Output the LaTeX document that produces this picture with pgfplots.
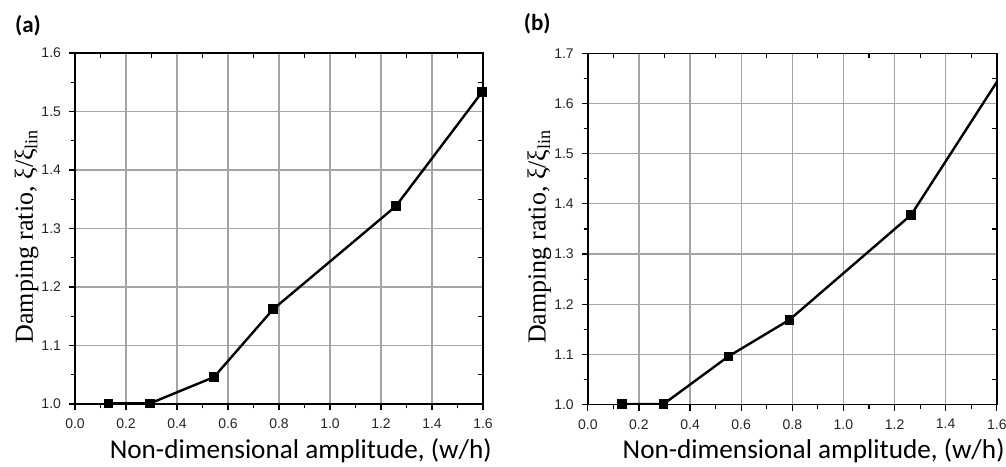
\documentclass[border=0pt]{standalone}
\usepackage{fontspec}
\usepackage{pgfplots}
\pgfplotsset{compat=1.18}
\setmainfont{Liberation Sans}
\newfontfamily\labelfont{Carlito}
\newfontfamily\serifgreek{Liberation Serif}

\definecolor{gridgray}{RGB}{165,165,165}

% Data: damping ratio vs. non-dimensional amplitude
\pgfplotstableread{
x      y
0.131  1.001
0.294  1.001
0.545  1.046
0.777  1.162
1.258  1.338
1.596  1.533
}\dataA
\pgfplotstableread{
x      y
0.133  1.001
0.296  1.001
0.550  1.096
0.789  1.169
1.265  1.378
1.660  1.690
}\dataB

\pgfplotsset{
  panel/.style={
    scale only axis,
    anchor=south west,
    xmin=0, xmax=1.6,
    ymin=1.0,
    xtick={0,0.2,...,1.6},
    minor x tick num=1,
    minor y tick num=1,
    tick align=outside,
    tick pos=left,
    major tick length=3pt,
    minor tick length=2pt,
    grid=major,
    major grid style={gridgray, line width=0.6pt},
    axis line style={black, line width=0.7pt},
    every tick/.style={black, line width=0.6pt},
    tick label style={font=\fontsize{7}{8}\selectfont, text=black!85},
    /pgf/number format/assume math mode=true,
    /pgf/number format/fixed,
    /pgf/number format/fixed zerofill,
    /pgf/number format/precision=1,
    xticklabel style={yshift=-0.8pt},
    yticklabel style={xshift=-0.5pt},
    xlabel={\labelfont\fontsize{13.6}{16}\selectfont Non-dimensional amplitude, (w/h)},
    ylabel={\serifgreek\fontsize{13}{16}\selectfont Damping ratio, ξ/ξ\textsubscript{lin}},
    xlabel style={at={(axis description cs:0.068,-0.154)}, anchor=base west},
    ylabel style={at={(axis description cs:-0.103,0.478)}, anchor=base},
    clip=true,
  },
  mirror/.style={
    scale only axis,
    anchor=south west,
    xmin=0, xmax=1.6,
    ymin=1.0,
    axis line style={draw=none},
    xtick={0.1,0.3,...,1.5},
    xticklabels={},
    yticklabels={},
    tick align=inside,
    xtick pos=right,
    ytick pos=right,
    major tick length=2.5pt,
    every tick/.style={black, line width=0.6pt},
  },
  series/.style={black, line width=1.2pt, mark=square*, mark size=1.8pt,
    mark options={solid, fill=black}},
}

\begin{document}
\begin{tikzpicture}
\useasboundingbox (0pt,0pt) rectangle (503pt,233pt);

% panel (a)
\begin{axis}[panel, at={(37.5pt,31pt)}, width=204pt, height=175.5pt,
  ymax=1.6, ytick={1.0,1.1,...,1.61}]
  \addplot[series] table[x=x,y=y] {\dataA};
\end{axis}
\begin{axis}[mirror, at={(37.5pt,31pt)}, width=204pt, height=175.5pt,
  ymax=1.6, ytick={1.05,1.15,...,1.56}]
\end{axis}
\node[font=\labelfont\bfseries\fontsize{11.5}{13}\selectfont] at (14pt,220pt) {(a)};

% panel (b)
\begin{axis}[panel, at={(293.9pt,30.7pt)}, width=204.5pt, height=175.7pt,
  ymax=1.7, ytick={1.0,1.1,...,1.71}]
  \addplot[series] table[x=x,y=y] {\dataB};
\end{axis}
\begin{axis}[mirror, at={(293.9pt,30.7pt)}, width=204.5pt, height=175.7pt,
  ymax=1.7, ytick={1.05,1.15,...,1.66}]
\end{axis}
\node[font=\labelfont\bfseries\fontsize{11.5}{13}\selectfont] at (268.6pt,221pt) {(b)};
\end{tikzpicture}
\end{document}
